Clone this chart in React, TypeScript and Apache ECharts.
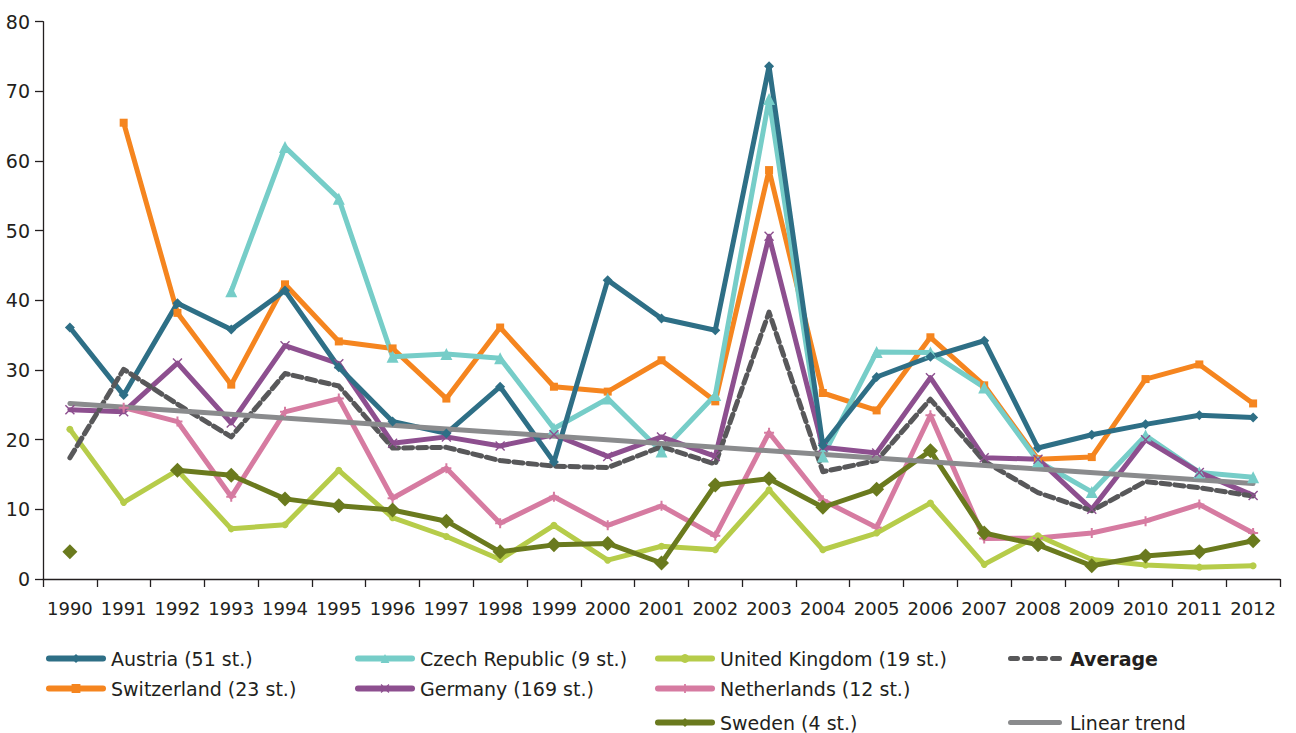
import React, { useEffect, useRef } from "react";
import * as echarts from "echarts";

const years = ["1990","1991","1992","1993","1994","1995","1996","1997","1998","1999","2000","2001","2002","2003","2004","2005","2006","2007","2008","2009","2010","2011","2012"];
const yTicks = { min: 0, max: 80, interval: 10 };

const austria = [36.1, 26.4, 39.6, 35.8, 41.4, 30.4, 22.6, 20.9, 27.6, 16.8, 42.9, 37.4, 35.7, 73.6, 19.2, 29.0, 31.9, 34.2, 18.8, 20.7, 22.2, 23.5, 23.2];
const czech = [null, null, null, 41.3, 62.0, 54.6, 31.9, 32.3, 31.7, 21.6, 25.9, 18.3, 26.4, 68.9, 17.6, 32.6, 32.5, 27.5, 16.9, 12.5, 20.6, 15.3, 14.6];
const uk = [21.5, 11.0, 15.6, 7.2, 7.8, 15.6, 8.8, 6.1, 2.8, 7.7, 2.7, 4.7, 4.2, 12.8, 4.2, 6.6, 10.9, 2.1, 6.2, 2.8, 2.0, 1.7, 1.9];
const average = [17.4, 30.1, 25.1, 20.4, 29.5, 27.7, 18.8, 18.9, 17.0, 16.2, 16.0, 19.0, 16.5, 38.3, 15.4, 17.0, 25.8, 16.9, 12.4, 9.8, 14.0, 13.1, 11.9];
const switzerland = [null, 65.5, 38.2, 27.9, 42.3, 34.1, 33.1, 25.9, 36.1, 27.6, 26.9, 31.4, 25.5, 58.7, 26.7, 24.2, 34.7, 27.8, 17.2, 17.5, 28.7, 30.8, 25.2];
const germany = [24.3, 24.0, 31.0, 22.4, 33.5, 30.9, 19.5, 20.4, 19.1, 20.7, 17.6, 20.4, 17.6, 49.2, 18.9, 18.1, 28.9, 17.4, 17.2, 10.0, 20.0, 15.3, 12.0];
const netherlands = [null, 24.6, 22.6, 11.8, 24.0, 25.9, 11.6, 15.9, 8.0, 11.8, 7.7, 10.5, 6.2, 21.0, 11.3, 7.4, 23.5, 5.8, 5.9, 6.6, 8.3, 10.7, 6.6];
const sweden = [3.9, null, 15.6, 14.9, 11.5, 10.5, 9.9, 8.3, 3.9, 4.9, 5.1, 2.3, 13.5, 14.4, 10.3, 12.9, 18.4, 6.6, 4.9, 1.9, 3.3, 3.9, 5.5];
const trendEnds = { start: 25.2, end: 13.7 };
const trend = years.map((_, i) => (i === 0 ? trendEnds.start : i === years.length - 1 ? trendEnds.end : null));

const names = {
  austria: "Austria (51 st.)",
  czech: "Czech Republic (9 st.)",
  uk: "United Kingdom (19 st.)",
  average: "Average",
  switzerland: "Switzerland (23 st.)",
  germany: "Germany (169 st.)",
  netherlands: "Netherlands (12 st.)",
  sweden: "Sweden (4 st.)",
  trend: "Linear trend",
};

const FONT = "DejaVu Sans";
const TEXT = "#231f20";
const CROSS = "path://M0,1L1,0L5,4L9,0L10,1L6,5L10,9L9,10L5,6L1,10L0,9L4,5Z";
const PLUS = "path://M4,0H6V4H10V6H6V10H4V6H0V4H4Z";
const TREND_ICON = "path://M2.5,0H51.5A2.5,2.5,0,0,1,51.5,5H2.5A2.5,2.5,0,0,1,2.5,0Z";
const DASH_ICON =
  "path://M2.5,0H9.5A2.5,2.5,0,0,1,9.5,5H2.5A2.5,2.5,0,0,1,2.5,0Z" +
  "M16.5,0H23.5A2.5,2.5,0,0,1,23.5,5H16.5A2.5,2.5,0,0,1,16.5,0Z" +
  "M30.5,0H37.5A2.5,2.5,0,0,1,37.5,5H30.5A2.5,2.5,0,0,1,30.5,0Z" +
  "M44.5,0H51.5A2.5,2.5,0,0,1,51.5,5H44.5A2.5,2.5,0,0,1,44.5,0Z";

export default function App() {
  const ref = useRef<HTMLDivElement>(null);
  useEffect(() => {
    document.body.style.margin = "0";
    const chart = echarts.init(ref.current!, null, { renderer: "svg" });
    const line = (name: string, data: any[], color: string, symbol: string, size: number, extra: any = {}) => ({
      name,
      type: "line",
      data,
      symbol,
      symbolSize: size,
      showAllSymbol: true,
      lineStyle: { color, width: 5, cap: "round", join: "round" },
      itemStyle: { color },
      emphasis: { disabled: true },
      ...extra,
    });
    const legend = (name: string, left: number, top: number, opts: any = {}) => ({
      data: [opts.icon ? { name, icon: opts.icon } : name],
      left,
      top,
      padding: 0,
      itemWidth: 54,
      itemHeight: 11,
      itemGap: 0,
      selectedMode: false,
      lineStyle: { width: 6, cap: "round" },
      textStyle: { fontFamily: FONT, fontSize: 19, color: TEXT, fontWeight: opts.bold ? "bold" : "normal", padding: [0, 0, 0, 3] },
    });
    chart.setOption({
      animation: false,
      grid: { left: 43, right: 16, top: 21.7, bottom: 154 },
      xAxis: {
        type: "category",
        data: years,
        boundaryGap: true,
        axisLine: { lineStyle: { color: TEXT, width: 1.3 } },
        axisTick: { show: true, length: 8, interval: 0, lineStyle: { color: TEXT, width: 1.3 } },
        axisLabel: { fontFamily: FONT, fontSize: 18, color: TEXT, margin: 20, interval: 0 },
      },
      yAxis: {
        type: "value",
        min: yTicks.min,
        max: yTicks.max,
        interval: yTicks.interval,
        splitLine: { show: false },
        axisLine: { show: true, lineStyle: { color: TEXT, width: 1.3 } },
        axisTick: { show: true, length: 8, lineStyle: { color: TEXT, width: 1.3 } },
        axisLabel: { fontFamily: FONT, fontSize: 19, color: TEXT, margin: 13 },
      },
      legend: [
        legend(names.austria, 46, 649),
        legend(names.czech, 355, 649),
        legend(names.uk, 655, 649),
        legend(names.average, 1008, 649, { bold: true, icon: DASH_ICON }),
        legend(names.switzerland, 46, 679),
        legend(names.germany, 355, 679),
        legend(names.netherlands, 655, 679),
        legend(names.sweden, 655, 713),
        legend(names.trend, 1008, 713, { icon: TREND_ICON }),
      ],
      series: [
        line(names.switzerland, switzerland, "#f5851f", "rect", 8),
        line(names.czech, czech, "#76cdc8", "triangle", 12),
        line(names.germany, germany, "#8d4f8f", CROSS, 10),
        line(names.netherlands, netherlands, "#d67ba1", PLUS, 10),
        line(names.uk, uk, "#b6cc4a", "circle", 7),
        line(names.sweden, sweden, "#6a7a1e", "diamond", 15),
        line(names.austria, austria, "#2e6f86", "diamond", 10),
        line(names.average, average, "#58585a", "none", 0, {
          lineStyle: { color: "#58585a", width: 5, type: [9, 5], cap: "round", join: "round" },
        }),
        line(names.trend, trend, "#8a8b8d", "none", 0, { connectNulls: true }),
      ],
    });
    return () => chart.dispose();
  }, []);
  return <div ref={ref} style={{ width: 1296, height: 733 }} />;
}
